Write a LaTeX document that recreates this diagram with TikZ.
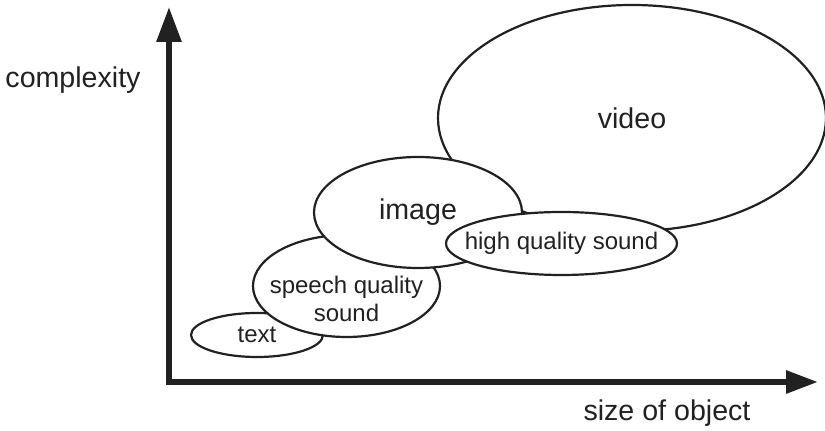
\documentclass[tikz,border=0pt]{standalone}
\usepackage{fontspec}
\setmainfont{Liberation Sans}
\usetikzlibrary{shapes.geometric, arrows.meta}
\definecolor{ink}{gray}{0.13}
\tikzset{
  blob/.style={ellipse, draw=ink, line width=1.1pt, fill=white, inner sep=0pt},
  big/.style={font=\fontsize{14.3}{17}\selectfont, text=ink},
  small/.style={font=\fontsize{12}{14}\selectfont, text=ink, align=center},
  axis/.style={draw=ink, line width=3pt, {Triangle[length=17.5pt,width=12pt]}-{Triangle[length=16pt,width=11pt]}}
}

\begin{document}
\begin{tikzpicture}[x=0.5pt, y=-0.5pt]
  \useasboundingbox (0,0) rectangle (825,431);

  \coordinate (Origin) at (169,382);
  \coordinate (Top) at (169,7);
  \coordinate (Right) at (818,382);

  \node[blob, minimum width=194pt, minimum height=113pt,
        label={[big]center:video}] (Video) at (632,118) {};
  \node[blob, minimum width=66pt, minimum height=22pt,
        label={[small]center:text}] (Text) at (257,335) {};
  \node[blob, minimum width=93.5pt, minimum height=51pt,
        label={[small, yshift=-6.5pt]center:speech quality\\sound}] (Speech) at (346.5,286) {};
  \node[blob, minimum width=104pt, minimum height=55.5pt,
        label={[big]center:image}] (Image) at (418,212.5) {};
  \node[blob, minimum width=115.5pt, minimum height=31.5pt,
        label={[small]center:high quality sound}] (High Quality) at (561.5,243.5) {};

  \draw[axis] (Top) -- (Origin) -- (Right);

  \node[big] (Complexity) at (73,80) {complexity};
  \node[big] (Size) at (667,413) {size of object};
\end{tikzpicture}
\end{document}
